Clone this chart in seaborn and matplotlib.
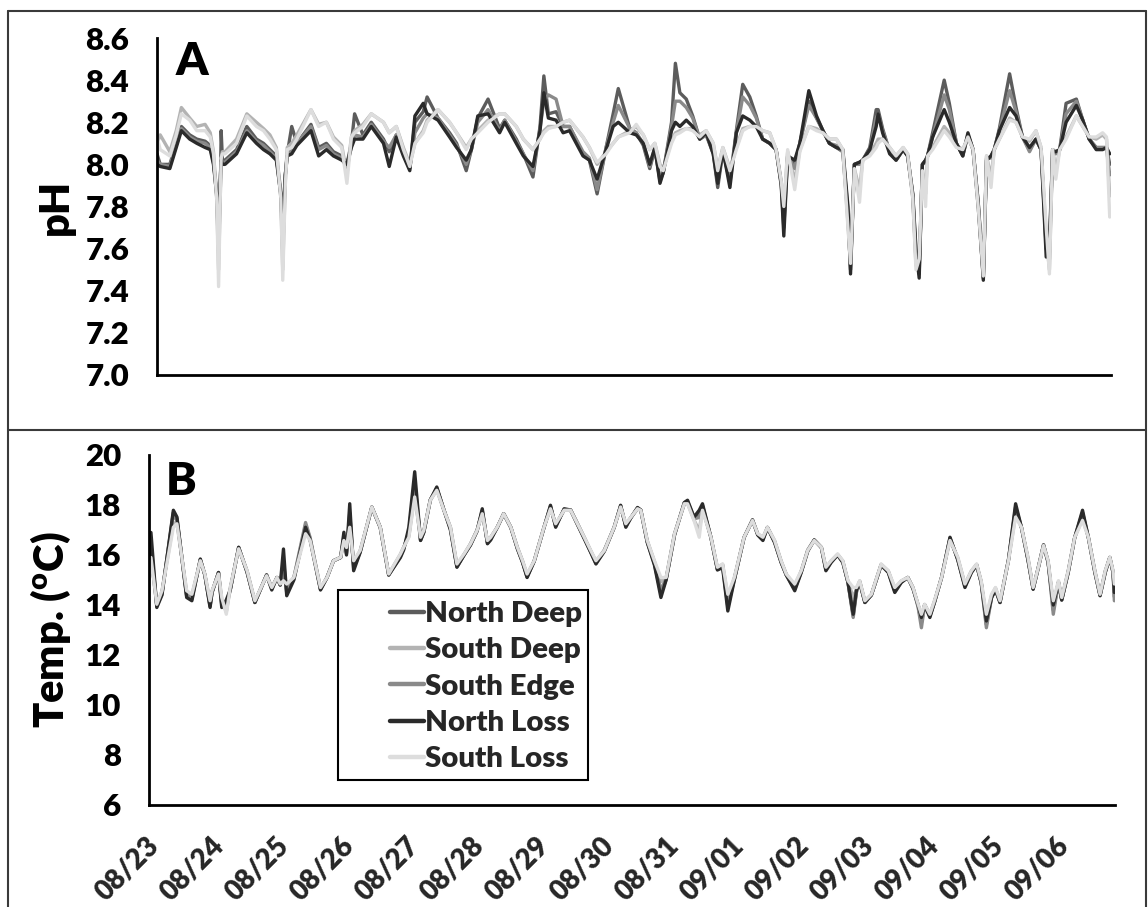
import matplotlib
matplotlib.use("Agg")
import matplotlib.pyplot as plt
from matplotlib.lines import Line2D
from matplotlib.patches import Rectangle
from matplotlib.transforms import ScaledTranslation
import numpy as np
import pandas as pd
import seaborn as sns

# ---------------- data ----------------
series_names = ['North Deep', 'South Deep', 'South Edge', 'North Loss', 'South Loss']
series_colors = ['#5c5c5c', '#b3b3b3', '#8a8a8a', '#2a2a2a', '#dddddd']
date_labels = ['08/23', '08/24', '08/25', '08/26', '08/27', '08/28', '08/29', '08/30',
               '08/31', '09/01', '09/02', '09/03', '09/04', '09/05', '09/06']
ph_ticks = [7.0, 7.2, 7.4, 7.6, 7.8, 8.0, 8.2, 8.4, 8.6]
temp_ticks = [6, 8, 10, 12, 14, 16, 18, 20]

# days since 08/23 00:00
ph_days = [
    0.00, 0.05, 0.20, 0.30, 0.38, 0.51, 0.62, 0.75, 0.83, 0.88,
    0.93, 0.96, 0.99, 1.00, 1.02, 1.06, 1.24, 1.40, 1.55, 1.66,
    1.76, 1.86, 1.93, 1.96, 2.00, 2.03, 2.10, 2.18, 2.40, 2.52,
    2.64, 2.75, 2.88, 2.96, 3.03, 3.08, 3.21, 3.34, 3.53, 3.62,
    3.73, 3.84, 3.94, 4.02, 4.15, 4.21, 4.38, 4.56, 4.67, 4.82,
    4.90, 5.00, 5.16, 5.34, 5.42, 5.60, 5.71, 5.86, 5.97, 6.03,
    6.10, 6.22, 6.33, 6.43, 6.64, 6.74, 6.86, 7.00, 7.11, 7.19,
    7.37, 7.47, 7.58, 7.68, 7.76, 7.84, 7.89, 8.02, 8.08, 8.15,
    8.25, 8.35, 8.46, 8.56, 8.67, 8.74, 8.82, 8.93, 9.03, 9.13,
    9.24, 9.34, 9.44, 9.55, 9.65, 9.73, 9.77, 9.83, 9.94, 10.02,
    10.16, 10.28, 10.38, 10.48, 10.59, 10.69, 10.77, 10.81, 10.87, 10.95,
    11.00, 11.11, 11.21, 11.24, 11.31, 11.42, 11.52, 11.63, 11.70, 11.78,
    11.83, 11.88, 11.93, 11.98, 12.01, 12.09, 12.27, 12.35, 12.46, 12.56,
    12.64, 12.72, 12.80, 12.88, 12.93, 13.00, 13.05, 13.13, 13.29, 13.39,
    13.49, 13.60, 13.70, 13.78, 13.86, 13.91, 13.96, 14.01, 14.07, 14.17,
    14.33, 14.43, 14.53, 14.64, 14.74, 14.80, 14.85]

ph_north_deep = [
    8.05, 8.00, 8.00, 8.10, 8.18, 8.14, 8.12, 8.11, 8.09, 8.02,
    7.85, 7.58, 7.92, 8.16, 8.02, 8.02, 8.07, 8.18, 8.12, 8.10,
    8.07, 8.04, 7.85, 7.58, 7.95, 8.05, 8.18, 8.10, 8.19, 8.08,
    8.10, 8.06, 8.04, 8.00, 8.10, 8.24, 8.14, 8.20, 8.12, 8.06,
    8.14, 8.05, 7.98, 8.20, 8.25, 8.32, 8.22, 8.15, 8.10, 7.97,
    8.07, 8.22, 8.31, 8.17, 8.21, 8.12, 8.05, 7.94, 8.18, 8.42,
    8.24, 8.25, 8.18, 8.18, 8.05, 8.02, 7.86, 8.08, 8.24, 8.36,
    8.17, 8.15, 8.09, 7.98, 8.07, 7.93, 7.96, 8.20, 8.48, 8.34,
    8.31, 8.23, 8.12, 8.14, 8.05, 7.89, 8.06, 7.92, 8.16, 8.38,
    8.32, 8.23, 8.12, 8.10, 8.07, 7.91, 7.70, 8.04, 8.00, 8.10,
    8.30, 8.22, 8.16, 8.10, 8.08, 8.06, 7.75, 7.50, 8.00, 8.01,
    8.02, 8.08, 8.26, 8.26, 8.17, 8.06, 8.02, 8.07, 8.04, 7.85,
    7.55, 7.48, 8.00, 8.02, 8.04, 8.15, 8.40, 8.29, 8.10, 8.04,
    8.14, 8.07, 7.80, 7.46, 8.02, 8.04, 8.07, 8.17, 8.43, 8.27,
    8.13, 8.07, 8.12, 8.07, 7.60, 7.55, 8.07, 8.06, 8.07, 8.29,
    8.31, 8.21, 8.12, 8.08, 8.08, 8.08, 8.00]

ph_south_deep = [
    8.10, 8.14, 8.06, 8.16, 8.27, 8.22, 8.18, 8.19, 8.15, 8.06,
    7.84, 7.50, 7.90, 8.03, 8.06, 8.06, 8.12, 8.24, 8.20, 8.17,
    8.14, 8.08, 7.84, 7.50, 7.92, 8.08, 8.10, 8.14, 8.26, 8.19,
    8.20, 8.13, 8.09, 7.95, 8.13, 8.16, 8.19, 8.24, 8.20, 8.15,
    8.18, 8.08, 8.00, 8.10, 8.16, 8.21, 8.26, 8.20, 8.15, 8.08,
    8.12, 8.16, 8.21, 8.24, 8.24, 8.18, 8.12, 8.07, 8.12, 8.16,
    8.18, 8.18, 8.20, 8.21, 8.13, 8.08, 8.00, 8.06, 8.10, 8.13,
    8.16, 8.18, 8.14, 8.07, 8.10, 8.00, 7.98, 8.11, 8.15, 8.16,
    8.17, 8.17, 8.14, 8.16, 8.10, 7.98, 8.08, 7.98, 8.08, 8.17,
    8.18, 8.18, 8.16, 8.15, 8.07, 7.92, 7.78, 8.06, 7.92, 8.07,
    8.18, 8.17, 8.15, 8.12, 8.12, 8.07, 7.72, 7.52, 7.98, 7.88,
    8.02, 8.05, 8.10, 8.12, 8.12, 8.08, 8.04, 8.08, 8.05, 7.84,
    7.52, 7.52, 7.98, 7.86, 8.04, 8.08, 8.18, 8.15, 8.09, 8.07,
    8.13, 8.07, 7.80, 7.47, 8.04, 7.94, 8.07, 8.12, 8.22, 8.20,
    8.13, 8.11, 8.16, 8.08, 7.66, 7.50, 8.07, 7.97, 8.07, 8.13,
    8.23, 8.18, 8.13, 8.12, 8.14, 8.12, 7.85]

ph_south_edge = [
    8.02, 8.00, 7.99, 8.09, 8.17, 8.13, 8.11, 8.10, 8.08, 8.01,
    7.88, 7.66, 7.96, 8.02, 8.01, 8.01, 8.06, 8.16, 8.11, 8.09,
    8.06, 8.03, 7.88, 7.70, 7.95, 8.04, 8.07, 8.10, 8.18, 8.07,
    8.09, 8.05, 8.03, 7.98, 8.09, 8.14, 8.13, 8.19, 8.11, 8.08,
    8.14, 8.05, 7.98, 8.15, 8.22, 8.24, 8.22, 8.14, 8.09, 8.00,
    8.07, 8.20, 8.26, 8.16, 8.21, 8.11, 8.05, 7.97, 8.17, 8.30,
    8.33, 8.31, 8.18, 8.18, 8.06, 8.03, 7.88, 8.08, 8.20, 8.28,
    8.17, 8.15, 8.10, 7.99, 8.08, 7.92, 7.96, 8.18, 8.30, 8.30,
    8.27, 8.22, 8.12, 8.14, 8.06, 7.92, 8.07, 7.91, 8.15, 8.32,
    8.28, 8.22, 8.12, 8.10, 8.07, 7.91, 7.74, 8.04, 7.98, 8.10,
    8.28, 8.22, 8.16, 8.10, 8.09, 8.06, 7.78, 7.55, 8.00, 8.00,
    8.02, 8.07, 8.22, 8.24, 8.16, 8.06, 8.02, 8.07, 8.04, 7.86,
    7.58, 7.50, 8.00, 8.01, 8.04, 8.13, 8.33, 8.26, 8.10, 8.05,
    8.14, 8.07, 7.82, 7.48, 8.03, 8.03, 8.07, 8.16, 8.35, 8.25,
    8.13, 8.06, 8.12, 8.07, 7.62, 7.58, 8.07, 8.05, 8.07, 8.24,
    8.30, 8.21, 8.12, 8.08, 8.08, 8.08, 7.95]

ph_north_loss = [
    8.00, 7.99, 7.98, 8.08, 8.16, 8.12, 8.10, 8.08, 8.07, 8.00,
    7.86, 7.62, 7.95, 8.02, 8.00, 8.00, 8.05, 8.15, 8.10, 8.07,
    8.05, 8.02, 7.86, 7.65, 7.95, 8.04, 8.05, 8.09, 8.16, 8.04,
    8.07, 8.04, 8.02, 8.00, 8.08, 8.12, 8.12, 8.18, 8.10, 7.99,
    8.13, 8.04, 7.97, 8.23, 8.29, 8.24, 8.21, 8.13, 8.08, 8.02,
    8.07, 8.23, 8.24, 8.15, 8.20, 8.10, 8.04, 7.99, 8.16, 8.34,
    8.22, 8.21, 8.15, 8.16, 8.04, 8.02, 7.93, 8.07, 8.18, 8.20,
    8.15, 8.14, 8.10, 8.00, 8.08, 7.91, 7.96, 8.16, 8.20, 8.18,
    8.21, 8.18, 8.12, 8.15, 8.05, 7.91, 8.07, 7.89, 8.15, 8.23,
    8.21, 8.18, 8.12, 8.10, 8.07, 7.90, 7.66, 8.04, 8.02, 8.10,
    8.35, 8.23, 8.16, 8.10, 8.08, 8.07, 7.80, 7.48, 8.00, 8.01,
    8.02, 8.07, 8.18, 8.24, 8.15, 8.05, 8.02, 8.07, 8.04, 7.86,
    7.60, 7.46, 8.00, 8.02, 8.04, 8.13, 8.26, 8.20, 8.10, 8.04,
    8.15, 8.07, 7.82, 7.45, 8.02, 8.04, 8.07, 8.16, 8.27, 8.23,
    8.13, 8.08, 8.12, 8.07, 7.56, 7.62, 8.06, 8.06, 8.07, 8.20,
    8.28, 8.21, 8.12, 8.07, 8.07, 8.08, 8.05]

ph_south_loss = [
    8.13, 8.07, 8.04, 8.14, 8.24, 8.21, 8.16, 8.16, 8.13, 8.05,
    7.84, 7.42, 7.90, 8.03, 8.05, 8.05, 8.10, 8.23, 8.18, 8.16,
    8.12, 8.07, 7.84, 7.45, 7.90, 8.07, 8.08, 8.12, 8.26, 8.18,
    8.20, 8.12, 8.08, 7.91, 8.13, 8.15, 8.18, 8.24, 8.20, 8.15,
    8.18, 8.07, 7.99, 8.10, 8.15, 8.20, 8.26, 8.20, 8.15, 8.07,
    8.12, 8.15, 8.20, 8.24, 8.24, 8.18, 8.12, 8.07, 8.12, 8.15,
    8.17, 8.18, 8.20, 8.21, 8.13, 8.08, 8.01, 8.05, 8.10, 8.13,
    8.15, 8.19, 8.14, 8.07, 8.10, 7.99, 7.97, 8.10, 8.14, 8.15,
    8.17, 8.16, 8.13, 8.16, 8.10, 7.97, 8.08, 7.97, 8.07, 8.16,
    8.18, 8.18, 8.16, 8.15, 8.07, 7.92, 7.80, 8.07, 7.88, 8.06,
    8.18, 8.16, 8.15, 8.12, 8.12, 8.07, 7.70, 7.53, 7.98, 7.82,
    8.02, 8.04, 8.08, 8.10, 8.12, 8.08, 8.04, 8.08, 8.05, 7.84,
    7.50, 7.55, 7.97, 7.80, 8.04, 8.07, 8.16, 8.13, 8.08, 8.07,
    8.13, 8.07, 7.80, 7.47, 8.04, 7.89, 8.07, 8.12, 8.21, 8.20,
    8.13, 8.12, 8.16, 8.08, 7.70, 7.48, 8.07, 7.93, 8.07, 8.12,
    8.23, 8.18, 8.13, 8.13, 8.15, 8.13, 7.75]

temp_days = [
    0.00, 0.03, 0.12, 0.20, 0.375, 0.43, 0.58, 0.66, 0.79, 0.86,
    0.94, 0.97, 1.07, 1.12, 1.19, 1.25, 1.38, 1.51, 1.63, 1.81,
    1.89, 1.97, 2.02, 2.07, 2.12, 2.23, 2.41, 2.48, 2.64, 2.74,
    2.84, 2.95, 3.00, 3.04, 3.09, 3.15, 3.25, 3.43, 3.56, 3.69,
    3.87, 3.92, 4.00, 4.09, 4.18, 4.23, 4.33, 4.43, 4.54, 4.64,
    4.74, 4.85, 4.95, 5.05, 5.13, 5.21, 5.26, 5.36, 5.46, 5.57,
    5.67, 5.75, 5.82, 5.93, 6.08, 6.18, 6.26, 6.39, 6.49, 6.57,
    6.70, 6.80, 6.88, 7.01, 7.16, 7.26, 7.34, 7.42, 7.52, 7.57,
    7.67, 7.78, 7.88, 7.96, 8.09, 8.24, 8.29, 8.39, 8.47, 8.52,
    8.65, 8.75, 8.83, 8.91, 9.01, 9.16, 9.29, 9.37, 9.45, 9.52,
    9.63, 9.73, 9.81, 9.94, 10.04, 10.14, 10.24, 10.35, 10.42, 10.50,
    10.60, 10.68, 10.76, 10.84, 10.89, 10.94, 11.02, 11.12, 11.27, 11.38,
    11.48, 11.58, 11.68, 11.76, 11.84, 11.89, 11.94, 12.02, 12.09, 12.20,
    12.33, 12.45, 12.56, 12.66, 12.74, 12.81, 12.89, 12.97, 13.03, 13.10,
    13.23, 13.34, 13.43, 13.53, 13.61, 13.69, 13.77, 13.84, 13.92, 14.00,
    14.05, 14.15, 14.25, 14.37, 14.46, 14.56, 14.64, 14.72, 14.79, 14.84,
    14.86]

temp_north_deep = [
    15.15, 16.45, 13.95, 14.45, 17.70, 17.46, 14.35, 14.24, 15.82, 15.20,
    13.95, 14.50, 15.30, 14.00, 14.05, 14.60, 16.30, 15.32, 14.10, 15.20,
    14.65, 15.10, 14.80, 15.77, 14.48, 15.05, 17.20, 16.65, 14.62, 15.10,
    15.77, 15.90, 16.75, 16.05, 17.68, 15.48, 16.12, 17.91, 17.10, 15.20,
    15.95, 16.25, 16.95, 18.96, 16.59, 16.92, 18.20, 18.68, 17.80, 17.05,
    15.53, 16.00, 16.42, 16.98, 17.78, 16.48, 16.65, 17.10, 17.65, 17.10,
    16.27, 15.72, 15.12, 15.76, 17.10, 17.95, 17.15, 17.82, 17.80, 17.38,
    16.68, 16.12, 15.67, 16.18, 17.10, 17.97, 17.15, 17.50, 17.88, 17.80,
    16.52, 15.65, 14.45, 15.02, 16.82, 18.08, 18.15, 17.48, 17.65, 17.98,
    16.70, 15.42, 15.55, 13.93, 15.02, 16.70, 17.40, 16.82, 16.62, 17.10,
    16.52, 15.72, 15.20, 14.64, 15.32, 16.18, 16.60, 16.30, 15.41, 15.72,
    16.00, 15.72, 14.90, 13.57, 14.55, 14.92, 14.10, 14.40, 15.60, 15.32,
    14.55, 14.92, 15.10, 14.68, 13.95, 13.30, 14.00, 13.55, 14.10, 15.10,
    16.68, 15.82, 14.75, 15.32, 15.60, 14.90, 13.22, 14.30, 14.62, 14.10,
    15.80, 17.92, 17.10, 15.82, 14.64, 15.50, 16.40, 15.72, 13.80, 14.90,
    14.20, 15.32, 16.70, 17.70, 16.70, 15.32, 14.38, 15.32, 15.90, 15.30,
    14.33]

temp_south_deep = [
    15.03, 15.93, 14.02, 14.55, 17.27, 17.30, 14.51, 14.39, 15.78, 15.23,
    14.11, 14.55, 15.26, 14.23, 13.72, 14.67, 16.27, 15.36, 14.15, 15.18,
    14.70, 15.10, 14.83, 15.08, 14.76, 15.10, 17.00, 16.62, 14.68, 15.10,
    15.77, 15.91, 16.59, 16.23, 17.17, 15.71, 16.17, 17.91, 17.11, 15.23,
    16.03, 16.31, 16.74, 18.41, 16.67, 16.97, 18.19, 18.61, 17.79, 17.11,
    15.61, 16.03, 16.45, 16.99, 17.67, 16.55, 16.71, 17.11, 17.65, 17.11,
    16.31, 15.76, 15.21, 15.77, 17.11, 17.87, 17.23, 17.79, 17.79, 17.39,
    16.71, 16.17, 15.75, 16.19, 17.11, 17.93, 17.23, 17.51, 17.85, 17.79,
    16.57, 15.75, 14.93, 15.08, 16.85, 18.05, 18.07, 17.40, 16.97, 17.83,
    16.71, 15.49, 15.63, 14.32, 15.08, 16.71, 17.39, 16.85, 16.69, 17.11,
    16.57, 15.76, 15.23, 14.79, 15.36, 16.19, 16.59, 16.31, 15.49, 15.76,
    16.03, 15.76, 14.95, 14.30, 14.63, 14.96, 14.15, 14.42, 15.63, 15.36,
    14.67, 14.96, 15.10, 14.70, 13.99, 13.45, 14.02, 13.62, 14.15, 15.10,
    16.60, 15.89, 14.83, 15.36, 15.63, 14.95, 13.45, 14.39, 14.68, 14.15,
    15.78, 17.61, 17.11, 15.89, 14.68, 15.51, 16.39, 15.76, 14.00, 14.95,
    14.27, 15.36, 16.71, 17.45, 16.71, 15.36, 14.42, 15.36, 15.91, 15.35,
    14.62]

temp_south_edge = [
    15.10, 16.00, 14.00, 14.50, 17.60, 17.40, 14.40, 14.30, 15.80, 15.20,
    14.00, 14.50, 15.30, 14.10, 13.90, 14.60, 16.30, 15.35, 14.10, 15.20,
    14.70, 15.10, 14.80, 15.30, 14.60, 15.10, 17.30, 16.70, 14.65, 15.10,
    15.77, 15.90, 16.60, 16.10, 17.30, 15.60, 16.15, 17.90, 17.10, 15.20,
    16.00, 16.30, 16.80, 18.60, 16.60, 16.95, 18.20, 18.65, 17.80, 17.10,
    15.55, 16.00, 16.45, 17.00, 17.70, 16.50, 16.70, 17.10, 17.65, 17.10,
    16.30, 15.75, 15.15, 15.77, 17.10, 17.90, 17.20, 17.80, 17.80, 17.40,
    16.70, 16.15, 15.70, 16.20, 17.10, 17.95, 17.20, 17.50, 17.85, 17.80,
    16.55, 15.70, 14.60, 15.05, 16.85, 18.05, 18.10, 17.45, 17.50, 17.90,
    16.70, 15.45, 15.60, 14.10, 15.05, 16.70, 17.40, 16.85, 16.65, 17.10,
    16.55, 15.75, 15.20, 14.70, 15.35, 16.20, 16.60, 16.30, 15.45, 15.75,
    16.00, 15.75, 14.90, 13.50, 14.50, 14.95, 14.10, 14.40, 15.60, 15.35,
    14.60, 14.95, 15.10, 14.70, 13.90, 13.09, 14.00, 13.60, 14.10, 15.10,
    16.65, 15.85, 14.80, 15.35, 15.60, 14.90, 13.09, 14.30, 14.65, 14.10,
    15.80, 17.80, 17.10, 15.85, 14.65, 15.50, 16.40, 15.75, 13.63, 14.90,
    14.20, 15.35, 16.70, 17.60, 16.70, 15.35, 14.40, 15.35, 15.90, 15.30,
    14.17]

temp_north_loss = [
    15.20, 16.90, 13.90, 14.40, 17.79, 17.52, 14.30, 14.17, 15.84, 15.20,
    13.90, 14.50, 15.30, 13.90, 14.20, 14.60, 16.31, 15.30, 14.10, 15.20,
    14.60, 15.10, 14.80, 16.24, 14.37, 15.00, 17.11, 16.60, 14.60, 15.10,
    15.77, 15.90, 16.91, 16.00, 18.05, 15.37, 16.10, 17.92, 17.10, 15.20,
    15.90, 16.20, 17.11, 19.33, 16.58, 16.90, 18.20, 18.72, 17.80, 17.00,
    15.51, 16.00, 16.40, 16.95, 17.85, 16.45, 16.60, 17.10, 17.65, 17.10,
    16.25, 15.70, 15.10, 15.75, 17.10, 17.99, 17.11, 17.85, 17.80, 17.35,
    16.65, 16.10, 15.64, 16.15, 17.10, 17.99, 17.11, 17.50, 17.90, 17.80,
    16.50, 15.60, 14.30, 15.00, 16.80, 18.10, 18.19, 17.52, 17.79, 18.05,
    16.70, 15.40, 15.50, 13.76, 15.00, 16.70, 17.40, 16.80, 16.58, 17.10,
    16.50, 15.70, 15.20, 14.57, 15.30, 16.15, 16.60, 16.30, 15.37, 15.70,
    16.00, 15.70, 14.90, 13.63, 14.60, 14.90, 14.10, 14.40, 15.60, 15.30,
    14.50, 14.90, 15.10, 14.65, 14.00, 13.50, 14.00, 13.50, 14.10, 15.10,
    16.71, 15.80, 14.70, 15.30, 15.60, 14.90, 13.36, 14.30, 14.60, 14.10,
    15.80, 18.05, 17.10, 15.80, 14.63, 15.50, 16.40, 15.70, 14.00, 14.90,
    14.20, 15.30, 16.70, 17.79, 16.70, 15.30, 14.37, 15.30, 15.90, 15.30,
    14.50]

temp_south_loss = [
    15.00, 15.90, 14.03, 14.57, 17.11, 17.25, 14.57, 14.43, 15.77, 15.24,
    14.17, 14.57, 15.24, 14.30, 13.63, 14.70, 16.25, 15.37, 14.17, 15.17,
    14.70, 15.10, 14.84, 14.97, 14.84, 15.10, 16.85, 16.58, 14.70, 15.10,
    15.77, 15.91, 16.58, 16.30, 17.11, 15.77, 16.18, 17.92, 17.11, 15.24,
    16.04, 16.31, 16.71, 18.32, 16.71, 16.98, 18.19, 18.59, 17.79, 17.11,
    15.64, 16.04, 16.45, 16.98, 17.65, 16.58, 16.71, 17.11, 17.65, 17.11,
    16.31, 15.77, 15.24, 15.77, 17.11, 17.85, 17.25, 17.79, 17.79, 17.38,
    16.71, 16.18, 15.77, 16.18, 17.11, 17.92, 17.25, 17.52, 17.85, 17.79,
    16.58, 15.77, 15.10, 15.10, 16.85, 18.05, 18.05, 17.38, 16.71, 17.79,
    16.71, 15.51, 15.64, 14.43, 15.10, 16.71, 17.38, 16.85, 16.71, 17.11,
    16.58, 15.77, 15.24, 14.84, 15.37, 16.18, 16.58, 16.31, 15.51, 15.77,
    16.04, 15.77, 14.97, 14.70, 14.70, 14.97, 14.17, 14.43, 15.64, 15.37,
    14.70, 14.97, 15.10, 14.70, 14.03, 13.63, 14.03, 13.63, 14.17, 15.10,
    16.58, 15.91, 14.84, 15.37, 15.64, 14.97, 13.63, 14.43, 14.70, 14.17,
    15.77, 17.52, 17.11, 15.91, 14.70, 15.51, 16.38, 15.77, 14.17, 14.97,
    14.30, 15.37, 16.71, 17.38, 16.71, 15.37, 14.43, 15.37, 15.91, 15.37,
    14.84]

# ---------------- long-form tables ----------------
ph_series = dict(zip(series_names, [ph_north_deep, ph_south_deep, ph_south_edge,
                                    ph_north_loss, ph_south_loss]))
temp_series = dict(zip(series_names, [temp_north_deep, temp_south_deep, temp_south_edge,
                                      temp_north_loss, temp_south_loss]))
ph_long = pd.concat([pd.DataFrame({'day': ph_days, 'value': v, 'site': k})
                     for k, v in ph_series.items()], ignore_index=True)
temp_long = pd.concat([pd.DataFrame({'day': temp_days, 'value': v, 'site': k})
                       for k, v in temp_series.items()], ignore_index=True)
palette = dict(zip(series_names, series_colors))

# ---------------- style ----------------
sns.set_theme(style='white')
FAM = ['Lato', 'DejaVu Sans']
WT = 'heavy'
plt.rcParams['font.family'] = FAM
plt.rcParams['font.weight'] = WT
plt.rcParams['mathtext.fontset'] = 'custom'
plt.rcParams['mathtext.rm'] = 'Lato:heavy'
plt.rcParams['mathtext.it'] = 'Lato:heavy'
plt.rcParams['mathtext.bf'] = 'Lato:heavy'

W, H = 1148, 907
fig = plt.figure(figsize=(W / 100, H / 100), dpi=100)
fig.patch.set_facecolor('white')


def fbox(left, top, right, bottom):
    return [left / W, 1 - bottom / H, (right - left) / W, (bottom - top) / H]


ax1 = fig.add_axes(fbox(157, 38, 1111, 375))
ax2 = fig.add_axes(fbox(149, 455, 1115, 805))

for ax, df in ((ax1, ph_long), (ax2, temp_long)):
    sns.lineplot(data=df, x='day', y='value', hue='site', hue_order=series_names,
                 palette=palette, estimator=None, sort=False, linewidth=2.4,
                 legend=False, ax=ax)

xmax = 14.87
for ax in (ax1, ax2):
    ax.set_xlim(0, xmax)
    ax.set_facecolor('white')
    for s in ('top', 'right'):
        ax.spines[s].set_visible(False)
    for s in ('left', 'bottom'):
        ax.spines[s].set_color('black')
        ax.spines[s].set_linewidth(2.0)
    ax.set_xticks(range(len(date_labels)))
    ax.tick_params(axis='x', direction='in', length=6, width=1.8, color='black')
    ax.tick_params(axis='y', length=0, pad=20, labelsize=22.5, labelcolor='black')
    ax.set_xlabel('')

ax1.set_ylim(7.0, 8.6)
ax1.set_yticks(ph_ticks)
ax1.set_yticklabels([f'{v:.1f}' for v in ph_ticks], fontweight=WT)
ax1.set_xticklabels([])
ax1.set_ylabel('pH', fontsize=30, fontweight=WT, color='black')
ax1.yaxis.set_label_coords(-0.086, 0.5)
ax1.text(0.019, 0.89, 'A', transform=ax1.transAxes, fontsize=33, fontweight=WT,
         color='black', va='baseline')

ax2.set_ylim(6, 20)
ax2.set_yticks(temp_ticks)
ax2.set_yticklabels([str(v) for v in temp_ticks], fontweight=WT)
ax2.set_xticklabels(date_labels, rotation=45, ha='right', va='center',
                    rotation_mode='anchor', fontsize=20, fontweight=WT)
ax2.tick_params(axis='x', pad=26)
shift = ScaledTranslation(6 / 100, 0, fig.dpi_scale_trans)
for lab in ax2.get_xticklabels():
    lab.set_transform(lab.get_transform() + shift)
ax2.set_ylabel(r'Temp. ($^{\rm o}$C)', fontsize=30, fontweight=WT, color='black')
ax2.yaxis.set_label_coords(-0.079, 0.5)
ax2.text(0.017, 0.886, 'B', transform=ax2.transAxes, fontsize=33, fontweight=WT,
         color='black', va='baseline')

# legend (frame drawn separately to match the wide left margin)
fig.add_artist(Rectangle((338 / W, 1 - 780 / H), 250 / W, 190 / H, transform=fig.transFigure,
                         facecolor='white', edgecolor='black', linewidth=1.5, zorder=5))
handles = [Line2D([], [], color=c, lw=3.2) for c in series_colors]
leg = fig.legend(handles, series_names, loc='upper left',
                 bbox_to_anchor=(390 / W, 1 - 601 / H), bbox_transform=fig.transFigure,
                 frameon=False, prop={'family': FAM, 'weight': WT, 'size': 21.2},
                 handlelength=1.15, handletextpad=0.05, labelspacing=0.35,
                 borderpad=0, borderaxespad=0)
leg.set_zorder(6)

# outer panel borders
bc = '#3a3a3a'
fig.add_artist(Line2D([8 / W, 8 / W], [1 - 11 / H, 0], transform=fig.transFigure, color=bc, lw=1.5))
fig.add_artist(Line2D([1146 / W, 1146 / W], [1 - 11 / H, 0], transform=fig.transFigure, color=bc, lw=1.5))
fig.add_artist(Line2D([8 / W, 1146 / W], [1 - 11 / H, 1 - 11 / H], transform=fig.transFigure, color=bc, lw=1.5))
fig.add_artist(Line2D([8 / W, 1146 / W], [1 - 430 / H, 1 - 430 / H], transform=fig.transFigure, color=bc, lw=1.5))

fig.savefig('out.png', dpi=100, facecolor='white')
